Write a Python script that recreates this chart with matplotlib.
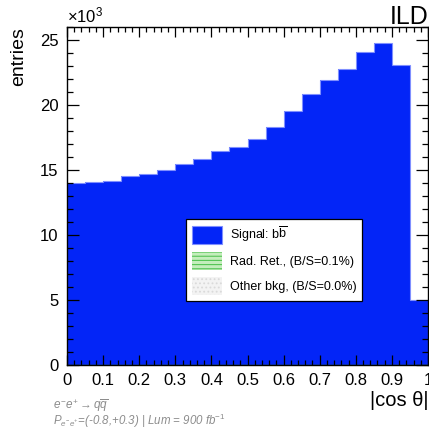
import matplotlib

matplotlib.use("Agg")
import matplotlib.pyplot as plt
import numpy as np
from matplotlib.patches import Patch
from matplotlib.ticker import FuncFormatter, MultipleLocator

plt.rcParams["font.family"] = ["Liberation Sans", "DejaVu Sans"]
plt.rcParams["mathtext.fontset"] = "custom"
plt.rcParams["mathtext.rm"] = "Liberation Sans"
plt.rcParams["mathtext.it"] = "Liberation Sans:italic"
plt.rcParams["mathtext.bf"] = "Liberation Sans:bold"
plt.rcParams["hatch.linewidth"] = 0.8

# |cos theta| binning and histogram contents
bin_edges = np.linspace(0.0, 1.0, 21)
signal_entries = [
    14020, 14100, 14150, 14500, 14700, 15000, 15460, 15870, 16460, 16770,
    17360, 18280, 19540, 20820, 21920, 22800, 24100, 24740, 23050, 5000,
]
radret_entries = [
    14, 14, 14, 15, 15, 15, 15, 16, 16, 17,
    17, 18, 20, 21, 22, 23, 24, 25, 23, 5,
]

legend_labels = [
    r"Signal: b$\overline{\mathrm{b}}$",
    "Rad. Ret., (B/S=0.1%)",
    "Other bkg, (B/S=0.0%)",
]

fig = plt.figure(figsize=(4.29, 4.29), dpi=100)
ax = fig.add_axes([67 / 429, 64 / 429, 361 / 429, 338 / 429])

ax.stairs(signal_entries, bin_edges, fill=True, color="#0325f7")
ax.stairs(signal_entries, bin_edges, color="#7f8fff", linewidth=0.8)
ax.stairs(radret_entries, bin_edges, color="#2e8b2e", linewidth=1.0)

ax.set_xlim(0, 1)
ax.set_ylim(0, 26000)

ax.xaxis.set_major_locator(MultipleLocator(0.1))
ax.xaxis.set_minor_locator(MultipleLocator(0.02))
ax.yaxis.set_major_locator(MultipleLocator(5000))
ax.yaxis.set_minor_locator(MultipleLocator(1000))
ax.xaxis.set_major_formatter(
    FuncFormatter(lambda v, _: "%g" % round(v, 1))
)
ax.yaxis.set_major_formatter(FuncFormatter(lambda v, _: "%d" % (v / 1000)))

ax.tick_params(which="both", direction="in", top=True, right=True,
               labelsize=12, width=0.9, colors="black")
ax.tick_params(axis="y", which="major", length=8.6, pad=6)
ax.tick_params(axis="y", which="minor", length=4.3)
ax.tick_params(axis="x", which="major", length=7.2, pad=6)
ax.tick_params(axis="x", which="minor", length=3.6)
for spine in ax.spines.values():
    spine.set_linewidth(1.0)

ax.set_ylabel("entries", fontsize=14, loc="top", labelpad=9)
ax.set_xlabel("|cos θ|", fontsize=14.5, loc="right", labelpad=2)

ax.text(0.0, 1.006, "×10$^{3}$", transform=ax.transAxes,
        fontsize=12, ha="left", va="bottom")
fig.text(0.9995, 405 / 429, "ILD", fontsize=18, ha="right", va="baseline")

# process and beam conditions, bottom left
fig.text(53 / 429, 23.5 / 429, r"$e^{-}e^{+} \rightarrow q\overline{q}$",
         fontsize=8.5, color="#8c8c8c", ha="left", va="center")
fig.text(53 / 429, 8.5 / 429,
         r"$P_{e^{-}e^{+}}$=(-0.8,+0.3) | Lum = 900 fb$^{-1}$",
         fontsize=8.3, color="#8c8c8c", style="italic", ha="left",
         va="center")

handles = [
    Patch(facecolor="#0325f7", edgecolor="#7f8fff", linewidth=0.8),
    Patch(facecolor="#c4edbc", edgecolor="#55c455", hatch="----",
          linewidth=0),
    Patch(facecolor="#f3f3f3", edgecolor="#dadada", hatch="....",
          linewidth=0),
]
leg = ax.legend(handles, legend_labels, loc="upper left",
                bbox_to_anchor=(119 / 361, (365 - 219) / 338),
                fontsize=9, frameon=True, fancybox=False, framealpha=1,
                handlelength=2.4, handleheight=1.85, labelspacing=0.62,
                handletextpad=0.64, borderpad=0.45, borderaxespad=0)
leg.get_frame().set_edgecolor("black")
leg.get_frame().set_linewidth(0.9)

fig.savefig("out.png", dpi=100)
